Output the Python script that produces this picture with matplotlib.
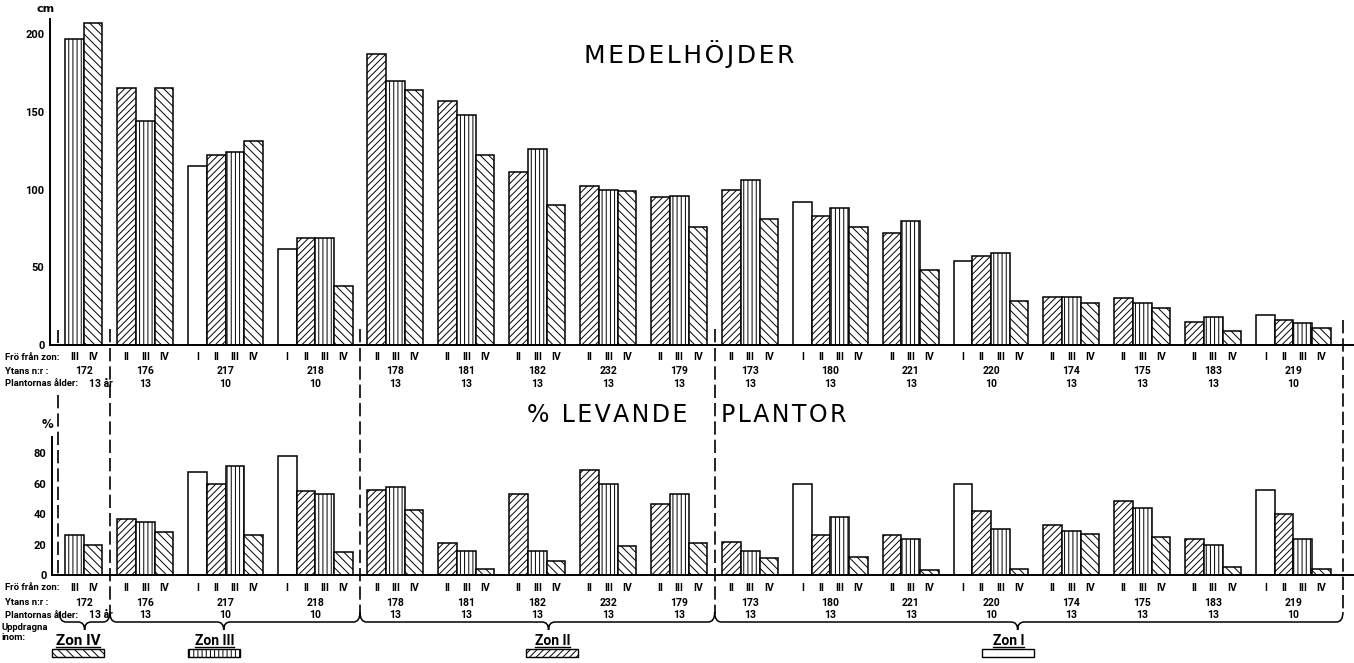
import matplotlib
matplotlib.use('Agg')
import matplotlib.pyplot as plt
from matplotlib import transforms, font_manager
from matplotlib.patches import Rectangle, PathPatch
from matplotlib.path import Path

# ---------------- data ----------------
plot_ids = ['172', '176', '217', '218', '178', '181', '182', '232', '179',
            '173', '180', '221', '220', '174', '175', '183', '219']
plot_ages = ['13 år', '13', '10', '10', '13', '13', '13', '13', '13',
             '13', '13', '13', '10', '13', '13', '13', '10']
seed_zones = [['III', 'IV'], ['II', 'III', 'IV'], ['I', 'II', 'III', 'IV'],
              ['I', 'II', 'III', 'IV'], ['II', 'III', 'IV'], ['II', 'III', 'IV'],
              ['II', 'III', 'IV'], ['II', 'III', 'IV'], ['II', 'III', 'IV'],
              ['II', 'III', 'IV'], ['I', 'II', 'III', 'IV'], ['II', 'III', 'IV'],
              ['I', 'II', 'III', 'IV'], ['II', 'III', 'IV'], ['II', 'III', 'IV'],
              ['II', 'III', 'IV'], ['I', 'II', 'III', 'IV']]
height_cm = [[197, 207], [165, 144, 165], [115, 122, 124, 131], [62, 69, 69, 38],
             [187, 170, 164], [157, 148, 122], [111, 126, 90], [102, 100, 99],
             [95, 96, 76], [100, 106, 81], [92, 83, 88, 76], [72, 80, 48],
             [54, 57, 59, 28], [31, 31, 27], [30, 27, 24], [15, 18, 9],
             [19, 16, 14, 11]]
alive_pct = [[26, 20], [37, 35, 28], [68, 60, 72, 26], [78, 55, 53, 15],
             [56, 58, 43], [21, 16, 4], [53, 16, 9], [69, 60, 19],
             [47, 53, 21], [22, 16, 11], [60, 26, 38, 12], [26, 24, 3],
             [60, 42, 30, 4], [33, 29, 27], [49, 44, 25], [24, 20, 5],
             [56, 40, 24, 4]]
zone_names = ['Zon IV', 'Zon III', 'Zon II', 'Zon I']
zone_hatches = ['\\\\\\\\', '||||', '/////', '']
zone_plot_counts = [1, 3, 5, 8]
cm_ticks = [0, 50, 100, 150, 200]
pct_ticks = [0, 20, 40, 60, 80]
hatch_map = {'I': '', 'II': '/////', 'III': '||||', 'IV': '\\\\\\\\'}

# ---------------- style ----------------
LBL_FAM = ['Roboto', 'DejaVu Sans']
plt.rcParams['font.family'] = ['DejaVu Sans']
plt.rcParams['hatch.linewidth'] = 0.7

W, H = 1354, 663
fig = plt.figure(figsize=(W / 100, H / 100), dpi=100)
fig.patch.set_facecolor('white')

SLOT = 18.67   # px per bar
X0 = 65        # px of first bar left edge
GAP = 0.8      # gap between groups (bar widths)


def axes_px(left, right, bottom, top):
    return fig.add_axes([left / W, (H - bottom) / H, (right - left) / W, (bottom - top) / H])


axT = axes_px(50, W, 345, 19)
axT.set_xlim((50 - X0) / SLOT, (W - X0) / SLOT)
axT.set_ylim(0, (345 - 19) / 1.555)
axB = axes_px(52, W, 575, 437)
axB.set_xlim((52 - X0) / SLOT, (W - X0) / SLOT)
axB.set_ylim(0, (575 - 437) / 1.52)

ov = fig.add_axes([0, 0, 1, 1], zorder=5)
ov.set_xlim(0, W)
ov.set_ylim(H, 0)
ov.set_autoscale_on(False)
ov.axis('off')
ov.patch.set_visible(False)

for ax, ticks in ((axT, cm_ticks), (axB, pct_ticks)):
    for s in ('top', 'right'):
        ax.spines[s].set_visible(False)
    for s in ('left', 'bottom'):
        ax.spines[s].set_linewidth(1.4)
    ax.set_xticks([])
    ax.set_yticks(ticks)
    ax.tick_params(axis='y', length=0, pad=4, labelsize=8)
    for t in ax.get_yticklabels():
        t.set_fontweight('bold')
        t.set_family(LBL_FAM)
    ax.patch.set_visible(False)

# ---------------- layout of bars ----------------
group_lefts = []
pos = 0.0
for zones in seed_zones:
    lefts = []
    for _ in zones:
        lefts.append(pos)
        pos += 1
    group_lefts.append(lefts)
    pos += GAP

blend = transforms.blended_transform_factory(axT.transData, ov.transData)
LBL = dict(fontsize=7.5, fontweight='bold', family=LBL_FAM, va='center')

for gi, zones in enumerate(seed_zones):
    lefts = group_lefts[gi]
    for ax, vals in ((axT, height_cm[gi]), (axB, alive_pct[gi])):
        ax.bar(lefts, vals, width=1, align='edge', color='white',
               edgecolor='black', linewidth=1.1,
               hatch=[hatch_map[z] for z in zones])
    center = (lefts[0] + lefts[-1] + 1) / 2
    for rows in ((357.5, 371, 384), (588, 602.5, 615)):
        for l, z in zip(lefts, zones):
            ov.text(l + 0.5, rows[0], z, transform=blend, ha='center', **LBL)
        ov.text(center, rows[1], plot_ids[gi], transform=blend, ha='center', **LBL)
        if gi == 0:
            ov.text(89, rows[2], plot_ages[gi], ha='left', **LBL)
        else:
            ov.text(center, rows[2], plot_ages[gi], transform=blend, ha='center', **LBL)

# row labels
for rows in ((357.5, 371, 384), (588, 602.5, 615)):
    for y, s in zip(rows, ['Frö från zon:', 'Ytans n:r :', 'Plantornas ålder:']):
        ov.text(5, y, s, ha='left', va='center', fontsize=6.8, fontweight='bold',
                family=LBL_FAM)

# ---------------- zone boundaries, braces, legend ----------------
bounds = [group_lefts[0][0] - GAP / 2]
gi = 0
for n in zone_plot_counts:
    gi += n
    last = group_lefts[gi - 1][-1] + 1
    bounds.append(last + GAP / 2 if gi < len(seed_zones) else last + 0.65)

DASH = dict(color='black', lw=1.2, linestyle=(0, (8, 3)), transform=blend)
ov.plot([bounds[0]] * 2, [330, 343], **DASH)
ov.plot([bounds[0]] * 2, [395, 578], **DASH)
for b in bounds[1:-1]:
    ov.plot([b, b], [329, 343], **DASH)
    ov.plot([b, b], [348, 614], **DASH)
ov.plot([bounds[-1]] * 2, [320, 612], **DASH)

tip_shift = [0.0, -0.6, 0.6, -0.6]
leg_shift = [-0.35, -0.5, 0.2, -0.5]
YB, YT, YE, R = 622, 630, 612, 0.35
for k, name in enumerate(zone_names):
    b0, b1 = bounds[k], bounds[k + 1]
    if k == 0:
        b0 = b0 + 0.1
    mid = (b0 + b1) / 2 + tip_shift[k]
    verts = [(b0, YE), (b0, YB), (b0 + R, YB), (mid - R, YB), (mid, YB), (mid, YT),
             (mid, YB), (mid + R, YB), (b1 - R, YB), (b1, YB), (b1, YE)]
    codes = [Path.MOVETO, Path.CURVE3, Path.CURVE3, Path.LINETO, Path.CURVE3,
             Path.CURVE3, Path.CURVE3, Path.CURVE3, Path.LINETO, Path.CURVE3, Path.CURVE3]
    ov.add_patch(PathPatch(Path(verts, codes), fill=False, lw=1.1, color='black',
                           transform=blend))
    lc = (b0 + b1) / 2 + tip_shift[k] + leg_shift[k]
    ov.add_patch(Rectangle((lc - 1.4, 649), 2.8, 8, transform=blend, facecolor='white',
                           edgecolor='black', lw=1.0, hatch=zone_hatches[k]))
    t = ov.text(lc, 641, name, transform=blend, ha='center', va='center',
                fontsize=11 if k == 0 else 10, fontweight='bold', family=LBL_FAM)
    t.set_gid('zone%d' % k)

fig.canvas.draw()
rend = fig.canvas.get_renderer()
inv = ov.transData.inverted()
for t in ov.texts:
    if t.get_gid() and t.get_gid().startswith('zone'):
        bb = t.get_window_extent(rend)
        (x0, y0), (x1, y1) = inv.transform([(bb.x0, bb.y0), (bb.x1, bb.y1)])
        ov.plot([x0, x1], [y0 - 1, y0 - 1], color='black', lw=1.0)

# ---------------- titles and units ----------------
HS = '\u200a'
ov.text(689, 54, HS.join('MEDELHÖJDER'), ha='center', va='center', fontsize=18)
ov.text(607, 415, HS.join('% LEVANDE'), ha='center', va='center', fontsize=17)
ov.text(784, 415, HS.join('PLANTOR'), ha='center', va='center', fontsize=17)
ov.text(46, 9, 'cm', ha='center', va='center', fontsize=8, fontweight='bold')
ov.text(47, 425, '%', ha='center', va='center', fontsize=8.5, fontweight='bold')
ov.text(2, 628, 'Uppdragna', ha='left', va='center', fontsize=6.8, fontweight='bold',
        family=LBL_FAM)
ov.text(2, 637, 'inom:', ha='left', va='center', fontsize=6.8, fontweight='bold',
        family=LBL_FAM)

fig.savefig('out.png', dpi=100, facecolor='white')
